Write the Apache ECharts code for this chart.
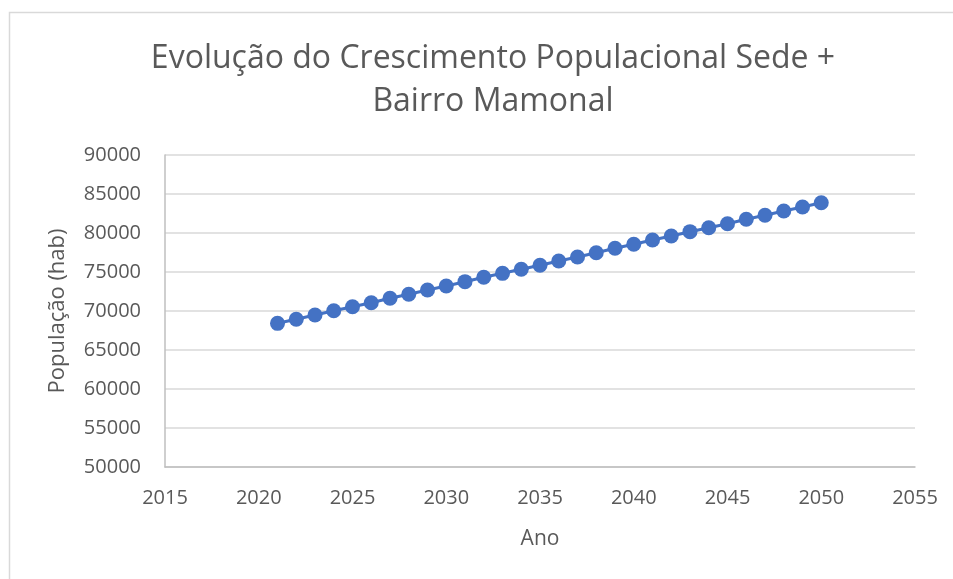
<!DOCTYPE html>
<html>
<head>
<meta charset="utf-8">
<script src="https://cdn.jsdelivr.net/npm/echarts@6/dist/echarts.min.js"></script>
<style>html,body{margin:0;padding:0;background:#fff;}#c{width:953px;height:579px;}</style>
</head>
<body>
<div id="c"></div>
<script>
var titleText = 'Evolução do Crescimento Populacional Sede +\nBairro Mamonal';
var xName = 'Ano';
var yName = 'População (hab)';
var years = [2021,2022,2023,2024,2025,2026,2027,2028,2029,2030,2031,2032,2033,2034,2035,2036,2037,2038,2039,2040,2041,2042,2043,2044,2045,2046,2047,2048,2049,2050];
var population = [68420,68940,69490,70040,70550,71060,71630,72140,72690,73210,73760,74320,74830,75350,75860,76410,76920,77470,78040,78550,79100,79620,80170,80680,81190,81760,82270,82820,83330,83880];
var xMin = 2015, xMax = 2055, xStep = 5;
var yMin = 50000, yMax = 90000, yStep = 5000;

var font = '"Open Sans", "Noto Sans", sans-serif';
var chart = echarts.init(document.getElementById('c'), null, {renderer: 'canvas'});
chart.setOption({
  backgroundColor: '#ffffff',
  animation: false,
  graphic: [{
    type: 'rect', left: 7, top: 10, silent: true,
    shape: {width: 960, height: 590},
    style: {fill: 'none', stroke: '#d9d9d9', lineWidth: 1.5}
  }],
  title: {
    text: titleText,
    left: 488, top: 32, textAlign: 'center',
    textStyle: {fontFamily: font, fontSize: 32, fontWeight: 'normal', color: '#595959', lineHeight: 43}
  },
  grid: {left: 165, right: 38, top: 155, bottom: 112, containLabel: false},
  xAxis: {
    type: 'value', min: xMin, max: xMax, interval: xStep,
    name: xName, nameLocation: 'middle', nameGap: 62,
    nameTextStyle: {fontFamily: font, fontSize: 21, color: '#595959'},
    axisLine: {show: true, lineStyle: {color: '#bfbfbf', width: 1.5}},
    axisTick: {show: false},
    splitLine: {show: false},
    axisLabel: {fontFamily: font, fontSize: 20, color: '#595959', margin: 21,
      formatter: function (v) { return String(v); }}
  },
  yAxis: {
    type: 'value', min: yMin, max: yMax, interval: yStep,
    name: yName, nameLocation: 'middle', nameGap: 96, nameRotate: 90,
    nameTextStyle: {fontFamily: font, fontSize: 22, color: '#595959'},
    axisLine: {show: true, lineStyle: {color: '#bfbfbf', width: 1.5}},
    axisTick: {show: false},
    splitLine: {show: true, lineStyle: {color: '#d9d9d9', width: 1.5}},
    axisLabel: {fontFamily: font, fontSize: 20, color: '#595959', margin: 24,
      formatter: function (v) { return String(v); }}
  },
  series: [{
    type: 'line',
    data: years.map(function (y, i) { return [y, population[i]]; }),
    symbol: 'circle', symbolSize: 15,
    lineStyle: {color: '#4472c4', width: 3},
    itemStyle: {color: '#4472c4'}
  }]
});
</script>
</body>
</html>
